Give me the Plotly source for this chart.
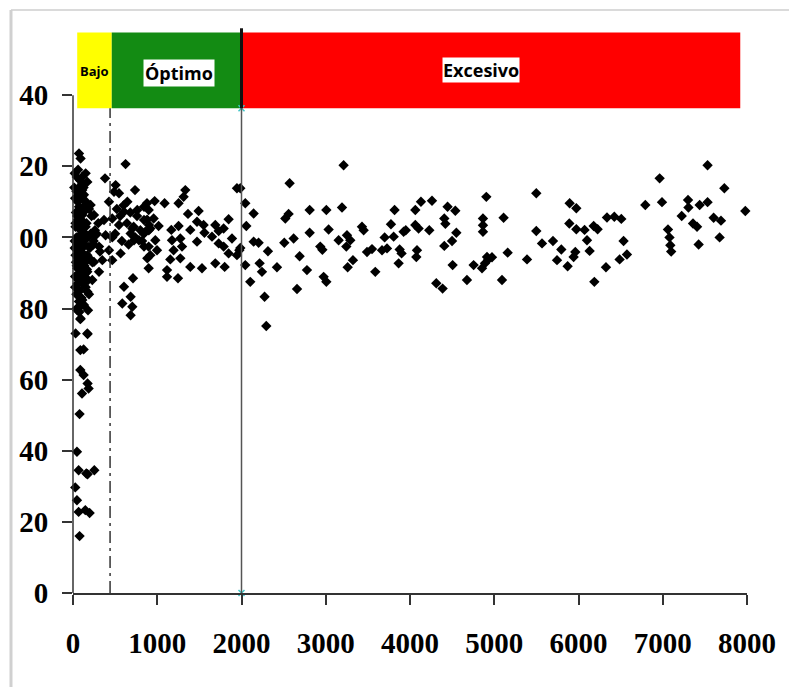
import plotly.graph_objects as go

# ---- data ----
# zone "Bajo" (dense column near the y axis)
x_col = [20,45,60,85,110,130,25,55,75,100,140,35,50,80,95,120,160,30,65,90,
         115,145,40,70,100,125,20,55,85,110,135,30,60,95,120,45,75,105,150,35,
         65,90,25,55,80,115,40,70,100,130,200,230,180,260]
y_col = [118,117,119,116,117,112,111,110,112,111,109,107,106,108,105,107,104,103,104,102,
         103,101,100,99,101,98,97,98,96,99,95,95,94,96,93,92,91,92,90,89,
         88,90,86,87,85,87,84,82,83,81,97,93,88,102]
x_col2 = [15,40,70,95,125,155,190,220,30,60,90,120,175,210,245,20,50,80,110,140,
          170,200,35,65,100,135,165,25,55,85,115,150,45,75,105,190,240,280,320,300]
y_col2 = [114,113,114,113,114,110,108,106,104,105,103,104,100,101,99,99,98,100,97,98,
          95,94,93,94,94,92,91,89,89,90,89,86,80,79,81,84,98,101,96,104]

# low tail near the axis
x_tail = [178,87,173,87,126,87,126,173,185,107,78,47,67,158,253,173,27,47,67,146,197,78]
y_tail = [79.5,77.0,72.8,68.3,68.5,62.7,61.3,58.9,57.5,56.1,50.3,39.7,34.5,33.6,34.5,33.4,29.7,26.1,22.8,23.3,22.5,16.0]

# 0 - 900
x_left = [71,90,624,150,380,110,170,110,506,487,546,736,427,645,71,209,110,249,368,605,
          763,843,51,150,466,546,704,843,902,71,170,268,387,466,684,724,783,843,71,190,
          309,427,565,466,71,150,249,348,882,51,170,309,90,229,712,605,51,170,684,585,
          110,51,704,90,684,31,170]
y_left = [123.6,122.2,120.6,118.0,116.6,115.2,115.6,113.3,114.7,112.8,112.4,113.3,110.0,110.0,108.6,109.1,106.3,106.3,104.9,107.2,
          107.7,108.6,103.9,103.0,105.3,103.5,102.5,104.9,103.5,100.2,100.2,100.6,100.6,100.0,101.1,99.2,99.2,97.4,97.4,97.4,
          97.4,96.4,95.5,93.6,94.5,93.1,93.1,93.6,94.1,91.3,90.3,90.3,88.0,88.0,88.5,86.1,85.7,84.7,83.3,81.4,
          82.4,79.5,80.5,77.2,78.1,73.0,73.0]
x_left2 = [520,560,600,640,680,720,760,800,840,880,500,580,660,740,820,900]
y_left2 = [108,106,109,104,107,103,106,102,101,105,101,99,98,100,99,102]

# 850 - 2000 (zone "Óptimo")
x_opt = [1946,1333,1313,1253,1087,969,878,898,957,1016,918,858,977,898,997,918,898,1167,1253,1175,
         1274,1294,1194,1155,1116,1116,1246,1274,1365,1392,1472,1491,1550,1560,1472,1392,1531,1689,1729,1788,
         1847,1650,1729,1788,1887,1847,1974,1946,1689,1800]
y_opt = [113.8,113.3,111.4,109.6,109.6,110.2,109.6,107.7,105.3,103.2,102.5,101.6,99.2,97.4,96.4,95.0,91.3,102.1,103.2,99.2,
         99.7,97.4,96.4,93.8,88.9,90.8,88.5,94.1,106.6,102.1,104.4,107.4,103.5,101.3,98.8,91.7,91.3,103.5,101.8,102.5,
         105.1,100.2,98.3,97.4,99.7,95.5,96.4,95.0,92.7,91.7]

# 2000 - 5000
x_mid = [3212,2571,1986,2045,2144,2057,1986,2144,2203,2045,2215,2243,2104,2314,2421,2274,2294,2520,2559,2508,
         2619,2690,2777,2659,2809,2809,2935,2960,3007,3034,2975,3007,3193,3153,3252,3291,3244,3260,3323,3430,
         3450,3490,3549,3588,3668,3699,3727,3774,3806,3817,3877,3900,3865,3924,3950,4063,4063,4102,4130,4083,
         4075,4229,4261,4312,4387,4407,4420,4407,4446,4538,4550,4499,4506,4676,4755,4855,4906,4866,4866,4866,
         4914,4930,4890]
y_mid = [120.3,115.2,113.8,109.6,106.7,103.2,97.0,98.8,98.5,92.2,92.7,90.3,87.5,96.1,91.6,83.3,75.1,105.3,106.6,98.5,
         99.7,94.7,90.8,85.5,107.7,101.3,97.4,96.5,107.7,102.2,88.9,87.5,108.4,99.2,100.6,99.2,97.4,91.6,93.6,103.0,
         102.0,95.9,96.7,90.3,96.4,100.0,96.9,103.7,100.2,107.7,96.6,95.5,92.7,101.6,102.0,107.7,103.5,102.5,110.0,96.4,
         94.5,102.0,110.3,87.1,85.6,105.3,103.8,97.6,108.6,107.5,101.3,99.0,92.2,88.0,92.2,91.3,111.4,105.3,103.4,101.6,
         94.5,93.8,92.7]

# 5000 - 8000
x_high = [7532,6963,7731,5499,6793,6991,7300,7305,7438,7532,7980,5111,5895,5974,5891,5974,6072,6180,6227,6338,
          6425,6508,5499,5567,5697,5796,6101,6132,5962,5942,5745,5871,6535,6575,6488,6326,6188,5389,5159,4973,
          5092,7062,7090,7100,7080,7225,7359,7407,7426,7604,7691,7675]
y_high = [120.3,116.6,113.8,112.4,109.1,109.9,110.5,108.4,109.1,109.9,107.4,105.5,109.6,108.2,103.9,102.3,102.1,103.2,102.3,105.6,
          105.8,105.2,101.8,98.3,99.0,96.6,99.2,96.2,95.9,94.5,93.6,91.9,99.0,95.2,93.8,91.6,87.5,93.8,95.7,94.4,
          88.0,102.2,97.8,96.0,100.0,106.0,103.9,103.0,98.0,105.5,104.7,100.0]

# zones (x limits) and labels
zone_x0 = [50, 460, 2000]
zone_x1 = [460, 2000, 7920]
zone_colors = ["#FFFF00", "#138B13", "#FF0000"]
band_y0, band_y1 = 136.3, 157.6
low_limit = 440
high_limit = 2000

x_ticks = [0, 1000, 2000, 3000, 4000, 5000, 6000, 7000, 8000]
x_ticktext = ["0", "1000", "2000", "3000", "4000", "5000", "6000", "7000", "8000"]
y_ticks = [0, 20, 40, 60, 80, 100, 120, 140]
y_ticktext = ["0", "20", "40", "60", "80", "00", "20", "40"]

fig = go.Figure()

xs = x_col + x_col2 + x_tail + x_left + x_left2 + x_opt + x_mid + x_high
ys = y_col + y_col2 + y_tail + y_left + y_left2 + y_opt + y_mid + y_high
fig.add_trace(go.Scatter(
    x=xs, y=ys, mode="markers",
    marker=dict(symbol="diamond", size=8, color="black", line=dict(width=0)),
    cliponaxis=False, showlegend=False, hoverinfo="skip"))

shapes = []
for x0, x1, c in zip(zone_x0, zone_x1, zone_colors):
    shapes.append(dict(type="rect", xref="x", yref="y", x0=x0, x1=x1, y0=band_y0, y1=band_y1,
                       fillcolor=c, line=dict(width=0), layer="below"))
shapes.append(dict(type="line", xref="x", yref="y", x0=low_limit, x1=low_limit, y0=0, y1=band_y0,
                   line=dict(color="#333333", width=1.5, dash="12px,5px,3px,5px")))
shapes.append(dict(type="line", xref="x", yref="y", x0=high_limit, x1=high_limit, y0=0, y1=band_y0,
                   line=dict(color="#555555", width=1.5)))
shapes.append(dict(type="line", xref="x", yref="y", x0=high_limit, x1=high_limit, y0=band_y0, y1=158.8,
                   line=dict(color="#111111", width=3)))
# y axis line, only up to 140
shapes.append(dict(type="line", xref="paper", yref="y", x0=0, x1=0, y0=0, y1=140,
                   line=dict(color="#333333", width=1.5)))
# picture frame
shapes.append(dict(type="line", xref="paper", yref="paper", x0=-0.092, x1=1.07, y0=1.0246, y1=1.0246,
                   line=dict(color="#DADADA", width=2)))
shapes.append(dict(type="line", xref="paper", yref="paper", x0=-0.092, x1=-0.092, y0=1.0246, y1=-0.17,
                   line=dict(color="#D0D0D0", width=3)))

fig.add_trace(go.Scatter(
    x=[high_limit, high_limit], y=[0, band_y0], mode="markers",
    marker=dict(symbol="x-thin", size=6, line=dict(color="#3FC6C8", width=1.5)),
    cliponaxis=False, showlegend=False, hoverinfo="skip"))

annotations = [
    dict(x=250, y=146.8, xref="x", yref="y", text="<b>Bajo</b>", showarrow=False,
         font=dict(family="Open Sans", size=13, color="black")),
    dict(x=1256, y=146.2, xref="x", yref="y", text="<b>Óptimo</b>", showarrow=False,
         font=dict(family="Open Sans", size=18, color="black"), bgcolor="white", borderpad=1),
    dict(x=4837, y=147.2, xref="x", yref="y", text="<b>Excesivo</b>", showarrow=False,
         font=dict(family="Open Sans", size=18, color="black"), bgcolor="white", borderpad=0),
]

tick_font = dict(family="Liberation Serif", size=29, color="black", weight="bold")

fig.update_layout(
    width=789, height=687,
    margin=dict(l=73, r=42, t=24, b=94),
    paper_bgcolor="white", plot_bgcolor="white",
    shapes=shapes, annotations=annotations,
    xaxis=dict(range=[0, 8000], tickvals=x_ticks, ticktext=x_ticktext,
               showgrid=False, zeroline=False, showline=True, linecolor="#333333", linewidth=1.5,
               ticks="outside", ticklen=10, tickwidth=1.5, tickcolor="#333333",
               tickfont=tick_font, ticklabelstandoff=13),
    yaxis=dict(range=[0, 160], tickvals=y_ticks, ticktext=y_ticktext,
               showgrid=False, zeroline=False, showline=False,
               ticks="outside", ticklen=10, tickwidth=1.5, tickcolor="#333333",
               tickfont=tick_font, ticklabelstandoff=8),
)

fig.write_html("out.html", config={"displayModeBar": False},
               post_script="document.body.style.margin='0';")
